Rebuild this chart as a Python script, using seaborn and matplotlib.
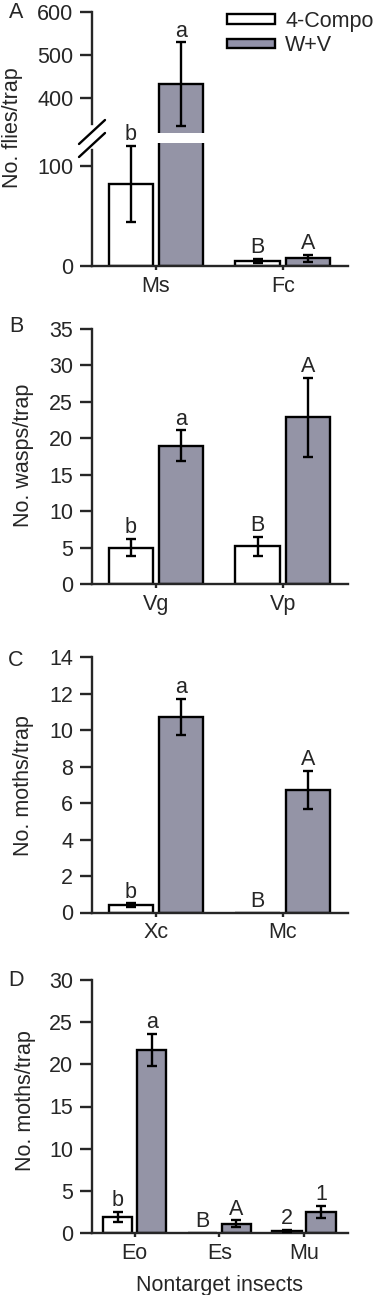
import matplotlib
matplotlib.use("Agg")
import matplotlib.pyplot as plt
from matplotlib.lines import Line2D
from matplotlib.patches import Patch
import numpy as np
import pandas as pd
import seaborn as sns

treatments = ["4-Compo", "W+V"]
bar_colors = ["white", "#9191a9"]

# A - flies (broken axis)
fly_species = ["Ms", "Fc"]
fly_compo = [82, 5]
fly_compo_se = [38, 2]
fly_wv = [432, 8]
fly_wv_se = [97, 3.5]
fly_compo_letters = ["b", "B"]
fly_wv_letters = ["a", "A"]

# B - wasps
wasp_species = ["Vg", "Vp"]
wasp_compo = [5.0, 5.2]
wasp_compo_se = [1.2, 1.3]
wasp_wv = [19.0, 22.9]
wasp_wv_se = [2.1, 5.4]
wasp_compo_letters = ["b", "B"]
wasp_wv_letters = ["a", "A"]

# C - moths
moth_species = ["Xc", "Mc"]
moth_compo = [0.4, 0.0]
moth_compo_se = [0.1, 0.0]
moth_wv = [10.7, 6.7]
moth_wv_se = [1.0, 1.05]
moth_compo_letters = ["b", "B"]
moth_wv_letters = ["a", "A"]

# D - nontarget insects
nt_species = ["Eo", "Es", "Mu"]
nt_compo = [1.9, 0.0, 0.25]
nt_compo_se = [0.6, 0.0, 0.1]
nt_wv = [21.7, 1.1, 2.5]
nt_wv_se = [1.9, 0.4, 0.7]
nt_compo_letters = ["b", "B", "2"]
nt_wv_letters = ["a", "A", "1"]

sns.set_style("ticks")
plt.rcParams["font.family"] = ["Liberation Sans", "DejaVu Sans"]
plt.rcParams["axes.linewidth"] = 1.7

W, H = 375, 1295
FS = 15.5
LW = 1.7
fig = plt.figure(figsize=(W / 100, H / 100), dpi=100)


def rect(top, bottom, left=92, right=348):
    return [left / W, 1 - bottom / H, (right - left) / W, (bottom - top) / H]


def draw_panel(ax, species, compo, compo_se, wv, wv_se, compo_let, wv_let):
    df = pd.DataFrame({
        "species": species * 2,
        "treatment": [t for t in treatments for _ in species],
        "mean": compo + wv,
    })
    sns.barplot(data=df, x="species", y="mean", hue="treatment",
                hue_order=treatments, palette=bar_colors, edgecolor="black",
                linewidth=LW, gap=0.13, errorbar=None, legend=False, ax=ax,
                zorder=2)
    n = len(species)
    idx = np.arange(n)
    xs = np.concatenate([idx - 0.2, idx + 0.2])
    means = np.array(compo + wv, dtype=float)
    ses = np.array(compo_se + wv_se, dtype=float)
    letters = compo_let + wv_let
    m = ses > 0
    ax.errorbar(xs[m], means[m], yerr=ses[m], fmt="none", ecolor="black",
                elinewidth=LW, capsize=3.6, capthick=LW, zorder=3)
    for x, y, s, lab in zip(xs, means, ses, letters):
        ax.annotate(lab, xy=(x, y + s), xytext=(0, 0.5),
                    textcoords="offset points", ha="center", va="bottom",
                    fontsize=FS)
    ax.set_xlim(-0.504, n - 1 + 0.512 if n == 2 else n - 1 + 0.52)
    ax.set_xlabel("")
    ax.set_ylabel("")
    sns.despine(ax=ax)
    ax.tick_params(axis="y", length=8.5, width=LW, pad=5, labelsize=FS)
    ax.tick_params(axis="x", length=3, width=LW, pad=4, labelsize=FS)


# Panel A: broken axis
ax_top = fig.add_axes(rect(12, 133))
ax_bot = fig.add_axes(rect(143, 266))
for a in (ax_top, ax_bot):
    draw_panel(a, fly_species, fly_compo, fly_compo_se, fly_wv, fly_wv_se,
               fly_compo_letters, fly_wv_letters)
ax_top.set_ylim(318, 600)
ax_top.set_yticks([400, 500, 600])
ax_top.spines["bottom"].set_visible(False)
ax_top.spines["left"].set_bounds(340, 600)
ax_top.tick_params(axis="x", bottom=False, labelbottom=False)
ax_bot.set_ylim(0, 123)
ax_bot.set_yticks([0, 100])
ax_bot.spines["left"].set_bounds(0, 116)

for yc in (132, 145):
    fig.add_artist(Line2D([(92 - 13) / W, (92 + 13) / W],
                          [1 - (yc + 12) / H, 1 - (yc - 12) / H],
                          transform=fig.transFigure, color="black", lw=LW))

# Panel B
ax_b = fig.add_axes(rect(329, 584))
draw_panel(ax_b, wasp_species, wasp_compo, wasp_compo_se, wasp_wv, wasp_wv_se,
           wasp_compo_letters, wasp_wv_letters)
ax_b.set_ylim(0, 35)
ax_b.set_yticks(np.arange(0, 36, 5))

# Panel C
ax_c = fig.add_axes(rect(657, 912.5))
draw_panel(ax_c, moth_species, moth_compo, moth_compo_se, moth_wv, moth_wv_se,
           moth_compo_letters, moth_wv_letters)
ax_c.set_ylim(0, 14)
ax_c.set_yticks(np.arange(0, 15, 2))

# Panel D
ax_d = fig.add_axes(rect(980, 1233))
draw_panel(ax_d, nt_species, nt_compo, nt_compo_se, nt_wv, nt_wv_se,
           nt_compo_letters, nt_wv_letters)
ax_d.set_ylim(0, 30)
ax_d.set_yticks(np.arange(0, 31, 5))
ax_d.set_xlabel("Nontarget insects", fontsize=FS, labelpad=8)

# y labels and panel letters
ylabels = [("No. flies/trap", 13, 128), ("No. wasps/trap", 23, 455),
           ("No. moths/trap", 23, 786), ("No. moths/trap", 25, 1101)]
for txt, x, y in ylabels:
    fig.text(x / W, 1 - y / H, txt, rotation=90, ha="center", va="center",
             fontsize=FS)
for lab, y in [("A", 13), ("B", 327), ("C", 660), ("D", 980)]:
    fig.text(16 / W, 1 - y / H, lab, ha="center", va="center", fontsize=FS)

handles = [Patch(facecolor=c, edgecolor="black", linewidth=LW) for c in bar_colors]
fig.legend(handles, treatments, loc="upper left",
           bbox_to_anchor=(227 / W, 1 - 11 / H), frameon=False, fontsize=FS,
           borderpad=0, borderaxespad=0, handlelength=2.23, handleheight=0.33,
           handletextpad=0.47, labelspacing=0.15)

fig.savefig("out.png", dpi=100)
